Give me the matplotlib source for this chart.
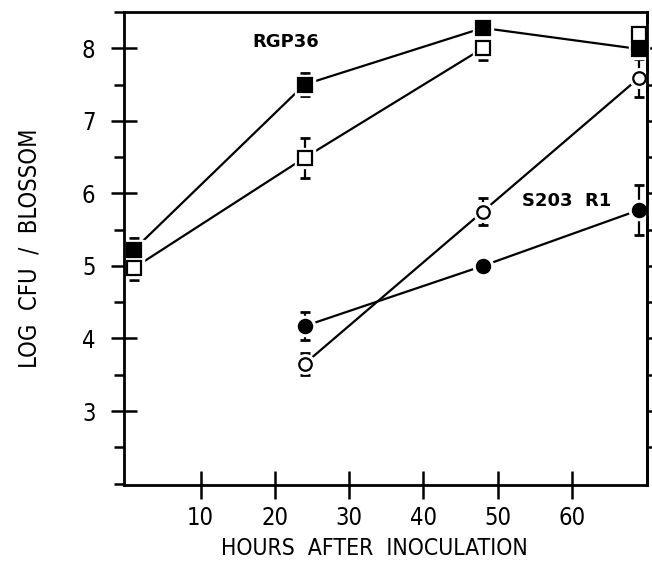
import matplotlib
matplotlib.use("Agg")
import matplotlib.pyplot as plt
from matplotlib.ticker import MultipleLocator

# RGP36 (squares)
hours_sq = [1, 24, 48, 69]
rgp_filled = [5.22, 7.50, 8.28, 7.99]
rgp_filled_err = [0.16, 0.16, 0.0, 0.0]
rgp_open = [4.97, 6.49, 8.00, 8.20]
rgp_open_err = [0.17, 0.28, 0.16, 0.0]

# S203 R1 (circles)
hours_c = [24, 48, 69]
s203_filled = [4.17, 5.00, 5.77]
s203_filled_err = [0.19, 0.0, 0.35]
s203_open = [3.65, 5.75, 7.59]
s203_open_err = [0.15, 0.18, 0.26]

lab_font = dict(family='DejaVu Sans', stretch='condensed', size=17)

fig = plt.figure(figsize=(6.52, 5.63), dpi=100)
ax = fig.add_axes([124 / 652, 1 - 485 / 563, (647 - 124) / 652, (485 - 12) / 563])


def series(x, y, err, marker, filled, ms, line=True):
    if line:
        ax.plot(x, y, '-', color='black', lw=1.6, zorder=1)
    xe = [a for a, e in zip(x, err) if e > 0]
    ye = [b for b, e in zip(y, err) if e > 0]
    ee = [e for e in err if e > 0]
    if xe:
        ax.errorbar(xe, ye, yerr=ee, fmt='none', ecolor='black', elinewidth=1.6,
                    capsize=3.5, capthick=2, zorder=2)
    # white halo so lines and bars stop short of the symbol
    ax.plot(x, y, ls='none', marker=marker, ms=ms + 5, mfc='white', mec='white',
            zorder=3, clip_on=False)
    ax.plot(x, y, ls='none', marker=marker, ms=ms, mew=1.6, mec='black',
            mfc='black' if filled else 'white', zorder=4, clip_on=False)


series(hours_sq[:3], rgp_open[:3], rgp_open_err[:3], 's', False, 9.5)
series(hours_sq, rgp_filled, rgp_filled_err, 's', True, 9.5)
series(hours_sq[3:], rgp_open[3:], rgp_open_err[3:], 's', False, 9.5, line=False)
series(hours_c, s203_open, s203_open_err, 'o', False, 9)
series(hours_c, s203_filled, s203_filled_err, 'o', True, 9.5)

ax.text(17.0, 8.08, 'RGP36', fontsize=13, fontweight='bold', va='center', ha='left')
ax.text(53.3, 5.9, 'S203  R1', fontsize=13, fontweight='bold', va='center', ha='left')

ax.set_xlim(-0.3, 70.1)
ax.set_ylim(1.98, 8.5)
ax.set_xticks([10, 20, 30, 40, 50, 60])
ax.set_yticks([3, 4, 5, 6, 7, 8])
ax.yaxis.set_minor_locator(MultipleLocator(0.5))

for s in ax.spines.values():
    s.set_linewidth(2)
    s.set_zorder(5)

ax.tick_params(axis='x', which='major', direction='inout', length=20, width=1.8, pad=5)
ax.tick_params(axis='y', which='major', direction='inout', length=19, width=1.8, pad=11)
ax.tick_params(axis='y', which='minor', direction='out', length=7, width=1.8)
for lab in ax.get_xticklabels() + ax.get_yticklabels():
    lab.set(**lab_font)

# right-hand ticks: short, outward, every half unit
right = ax.secondary_yaxis('right')
right.set_yticks([2.5 + 0.5 * i for i in range(12)])
right.tick_params(direction='out', length=6, width=1.8, labelright=False)
right.spines['right'].set_linewidth(2)

ax.set_xlabel('HOURS  AFTER  INOCULATION', family='DejaVu Sans', stretch='condensed',
              size=16.5)
ax.xaxis.set_label_coords(0.478, -0.11)
ax.set_ylabel('LOG  CFU  /  BLOSSOM', labelpad=29, **lab_font)

fig.savefig('out.png', dpi=100)
